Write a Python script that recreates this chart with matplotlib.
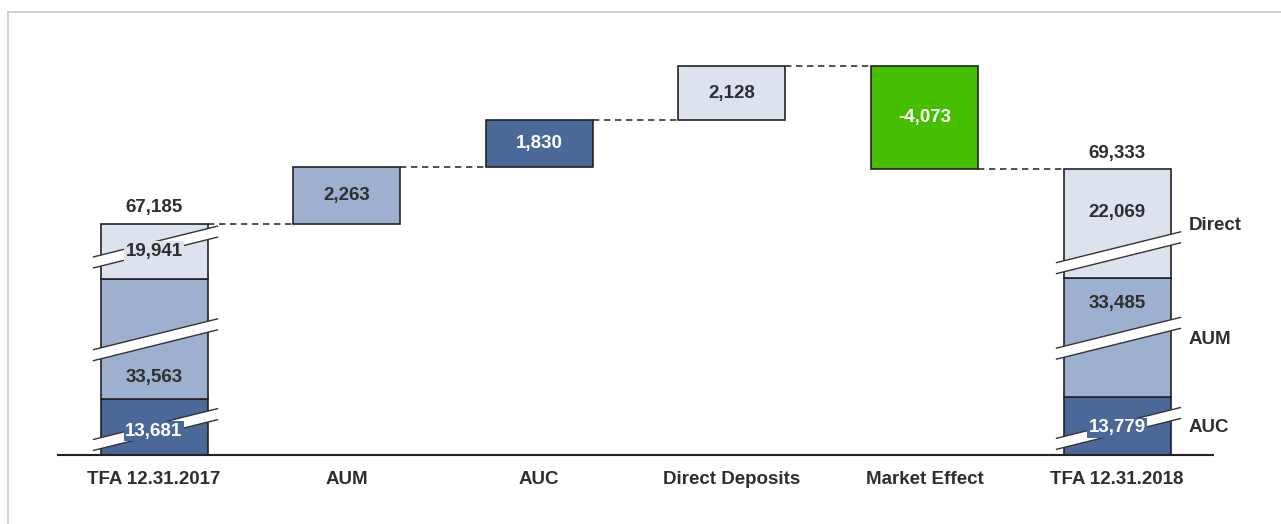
import matplotlib
matplotlib.use("Agg")
import matplotlib.pyplot as plt
from matplotlib.patches import Polygon
from matplotlib.lines import Line2D

# ---------------- data ----------------
categories = ["TFA 12.31.2017", "AUM", "AUC", "Direct Deposits", "Market Effect", "TFA 12.31.2018"]
segment_names = ["AUC", "AUM", "Direct"]
start_segments = [13681, 33563, 19941]      # AUC, AUM, Direct at 12.31.2017
end_segments = [13779, 33485, 22069]        # AUC, AUM, Direct at 12.31.2018
start_total = 67185
end_total = 69333
changes = [2263, 1830, 2128, -4073]         # AUM, AUC, Direct Deposits, Market Effect
change_labels = ["2,263", "1,830", "2,128", "-4,073"]

# amount hidden by the axis break within each stacked segment (AUC, AUM, Direct)
hidden = [11480, 28800, 17780]

# ---------------- style ----------------
C_DIRECT = "#dde3ee"
C_AUM = "#9eb0cf"
C_AUC = "#4b6998"
C_GREEN = "#45bf00"
seg_colors = [C_AUC, C_AUM, C_DIRECT]
change_colors = [C_AUM, C_AUC, C_DIRECT, C_GREEN]
change_text = ["#2e2e2e", "white", "#2e2e2e", "white"]
seg_text = ["white", "#2e2e2e", "#2e2e2e"]
TXT = "#2e2e2e"
EDGE = "#222222"
FONT = "Liberation Sans"
FS = 13.5

W, H = 1281, 524
PXU = 0.02533            # pixels per value unit
XSTEP = 192.6            # pixels per category
X0PX, Y0PX = 154, 455    # pixel position of first category / baseline

fig = plt.figure(figsize=(W / 100, H / 100), dpi=100)
ax = fig.add_axes([0, 0, 1, 1])
ax.set_xlim(-X0PX / XSTEP, (W - X0PX) / XSTEP)
ax.set_ylim((Y0PX - H) / PXU, Y0PX / PXU)
ax.axis("off")

bw = 107 / XSTEP
U = 1 / PXU               # value units per pixel
XU = 1 / XSTEP            # x units per pixel

total_hidden = sum(hidden)

def draw_break(xc, yc):
    """slanted white band with two dark lines, centred at (xc, yc)"""
    x1 = xc - bw / 2 - 7 * XU
    x2 = xc + bw / 2 + 10 * XU
    slope = 0.248 * U / XU
    half = 5.5 * U
    def yl(x, off):
        return yc + (x - xc) * slope + off
    poly = Polygon([(x1, yl(x1, -half)), (x2, yl(x2, -half)),
                    (x2, yl(x2, half)), (x1, yl(x1, half))],
                   closed=True, facecolor="white", edgecolor="none", zorder=4)
    ax.add_patch(poly)
    for off in (-half, half):
        ax.add_line(Line2D([x1, x2], [yl(x1, off), yl(x2, off)],
                           color="#333333", lw=1.0, zorder=5))

def stacked(xi, segs, label_frac, break_frac, total_label):
    bottom = 0
    for k, v in enumerate(segs):
        h = v - hidden[k]
        ax.bar(xi, h, bw, bottom=bottom, color=seg_colors[k], edgecolor=EDGE,
               lw=1.2, zorder=3)
        draw_break(xi, bottom + h * break_frac[k])
        ax.text(xi, bottom + h * label_frac[k], f"{v:,}", ha="center", va="center",
                fontsize=FS, fontweight="bold", family=FONT, color=seg_text[k], zorder=6,
                bbox=dict(boxstyle="square,pad=0.08", fc=seg_colors[k], ec="none"))
        bottom += h
    ax.text(xi, bottom + 16 * U, total_label, ha="center", va="center",
            fontsize=FS, fontweight="bold", family=FONT, color=TXT, zorder=6)
    return bottom

stacked(0, start_segments, [0.43, 0.18, 0.5], [0.45, 0.49, 0.57], f"{start_total:,}")
stacked(5, end_segments, [0.47, 0.79, 0.6], [0.45, 0.49, 0.23], f"{end_total:,}")

# waterfall steps
level = start_total - total_hidden
for i, ch in enumerate(changes):
    xi = i + 1
    bottom = level if ch > 0 else level + ch
    ax.bar(xi, abs(ch), bw, bottom=bottom, color=change_colors[i], edgecolor=EDGE,
           lw=1.2, zorder=3)
    ax.text(xi, bottom + abs(ch) / 2, change_labels[i], ha="center", va="center",
            fontsize=FS, fontweight="bold", family=FONT, color=change_text[i], zorder=6)
    ax.add_line(Line2D([xi - 1 + bw / 2, xi - bw / 2], [level, level], color="#333333",
                       lw=1.2, ls=(0, (3.8, 2.8)), zorder=2))
    level = level + ch
ax.add_line(Line2D([4 + bw / 2, 5 - bw / 2], [level, level], color="#333333",
                   lw=1.2, ls=(0, (3.8, 2.8)), zorder=2))

# baseline
ax.add_line(Line2D([-0.498, 5.498], [0, 0], color="#222222", lw=1.5, zorder=7))

# category labels
for i, c in enumerate(categories):
    ax.text(i, -24 * U, c, ha="center", va="center", fontsize=FS,
            fontweight="bold", family=FONT, color=TXT)

# right-side segment labels
for name, ypx in zip(["Direct", "AUM", "AUC"], [225, 339, 427]):
    ax.text((1189 - X0PX) / XSTEP, (Y0PX - ypx) * U, name, ha="left", va="center",
            fontsize=FS, fontweight="bold", family=FONT, color=TXT)

# light frame
fig.add_artist(Line2D([8 / W, 1], [1 - 12 / H, 1 - 12 / H], color="#c8c8c8", lw=1.2,
                      transform=fig.transFigure))
fig.add_artist(Line2D([8 / W, 8 / W], [0, 1 - 12 / H], color="#c8c8c8", lw=1.2,
                      transform=fig.transFigure))

fig.savefig("out.png", dpi=100)
